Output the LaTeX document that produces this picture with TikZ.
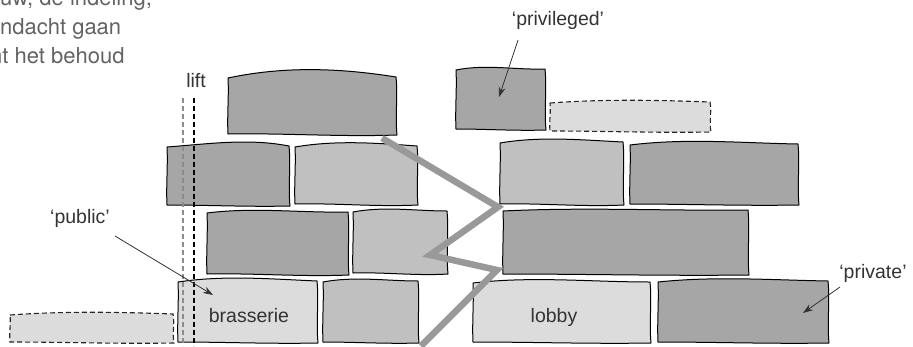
\documentclass[tikz,border=0pt]{standalone}
\usepackage{fontspec}
\setmainfont{Liberation Sans}
\newfontfamily\bodyfont{TeX Gyre Heros}
\usetikzlibrary{arrows.meta}
\definecolor{darkbrick}{HTML}{A6A6A6}
\definecolor{midbrick}{HTML}{C0C0C0}
\definecolor{lightbrick}{HTML}{DCDCDC}
\definecolor{zigzag}{HTML}{999999}
\definecolor{bodytext}{HTML}{636363}
\definecolor{labeltext}{HTML}{333333}
\tikzset{
  brick/.style={draw=black, line width=1pt, line join=round},
  ghostbrick/.style={draw=black!85, line width=1.1pt, dash pattern=on 5pt off 3pt},
  label/.style={font=\fontsize{19.5}{22}\selectfont, text=labeltext, inner sep=0pt, anchor=base},
  callout/.style={draw=labeltext, line width=0.8pt, -{Stealth[length=10pt,width=7pt]}},
  liftline/.style={line width=1.2pt, dash pattern=on 5pt off 3pt},
  route/.style={draw=zigzag, line width=6.5pt, line join=miter},
  para/.style={font=\bodyfont\fontsize{22}{24}\selectfont, text=bodytext, inner sep=0pt, anchor=base west}
}
% brick: x1 y1 x2 y2 style top-ctrl1 top-ctrl2 bottom-wave
\newcommand\brk[8]{%
  \draw[#5] (#1,{#2+1}) .. controls ({#1+(#3-#1)/3},{#2+(#6)}) and ({#1+2*(#3-#1)/3},{#2+(#7)}) .. (#3,#2)
   .. controls ({#3+2},{#2+(#4-#2)/3}) and ({#3-1},{#2+2*(#4-#2)/3}) .. ({#3+1},#4)
   .. controls ({#1+2*(#3-#1)/3},{#4+(#8)}) and ({#1+(#3-#1)/3},{#4-(#8)}) .. (#1,{#4-1})
   .. controls ({#1-1},{#2+2*(#4-#2)/3}) and ({#1+1},{#2+(#4-#2)/3}) .. cycle;}
\begin{document}
\begin{tikzpicture}[x=1pt,y=-1pt]
\useasboundingbox (0,0) rectangle (913,346);
\clip (0,0) rectangle (913,346);
% paragraph fragment (cut off by the picture's edges, as in the reference)
\node[para] (p1) at (0,5) {uw, de indeling,};
\node[para] (p2) at (0,34) {ndacht gaan};
\node[para] (p3) at (-10,63) {nt het behoud};
% bricks
\brk{228}{77}{396}{135}{brick,fill=darkbrick}{-11}{-9}{2}
\brk{456}{69}{545}{130}{brick,fill=darkbrick}{-5}{1}{1}
\brk{550}{102}{710}{132}{ghostbrick,fill=lightbrick}{-3}{-2}{1}
\brk{167}{146}{289}{206}{brick,fill=darkbrick}{-2}{-8}{1}
\brk{295}{146}{417}{205}{brick,fill=midbrick}{-6}{-3}{2}
\brk{500}{142}{623}{205}{brick,fill=midbrick}{-6}{-2}{2}
\brk{630}{144}{798}{205}{brick,fill=darkbrick}{-6}{-1}{1}
\brk{207}{212}{348}{275}{brick,fill=darkbrick}{-5}{1}{2}
\brk{353}{211}{447}{274}{brick,fill=midbrick}{-5}{0}{2}
\brk{503}{210}{748}{275}{brick,fill=darkbrick}{-3}{1}{1}
\brk{178}{281}{317}{343}{brick,fill=lightbrick}{-6}{-2}{1}
\brk{323}{281}{418}{343}{brick,fill=midbrick}{-5}{0}{1}
\brk{473}{282}{650}{343}{brick,fill=lightbrick}{-6}{0}{1}
\brk{658}{281}{828}{343}{brick,fill=darkbrick}{-5}{-1}{1}
\brk{10}{314}{173}{343}{ghostbrick,fill=lightbrick}{-3}{-2}{1}
% lift
\node[label] (lift) at (196,87) {lift};
\coordinate (liftA) at (183,98);
\coordinate (liftAend) at (183,346);
\coordinate (liftB) at (194,98);
\coordinate (liftBend) at (194,346);
\draw[liftline, draw=black!45] (liftA) -- (liftAend);
\draw[liftline, draw=black] (liftB) -- (liftBend);
% zigzag route
\coordinate (z0) at (382,138);
\coordinate (z1) at (498,207);
\coordinate (z2) at (430,255);
\coordinate (z3) at (497,270);
\coordinate (z4) at (421,346);
\draw[route] (z0) -- (z1) -- (z2) -- (z3) -- (z4);
% room labels
\node[label] (brasserie) at (249,322) {brasserie};
\node[label] (lobby) at (554,322) {lobby};
% callouts
\node[label] (privileged) at (558,25) {`privileged'};
\coordinate (privT) at (499,97);
\draw[callout] (518,40) -- (privT);
\node[label] (public) at (80,223) {`public'};
\coordinate (pubT) at (213,295);
\draw[callout] (115,236) -- (pubT);
\node[label] (private) at (873,278) {`private'};
\coordinate (privaT) at (803,313);
\draw[callout] (840,287) -- (privaT);
\end{tikzpicture}
\end{document}
